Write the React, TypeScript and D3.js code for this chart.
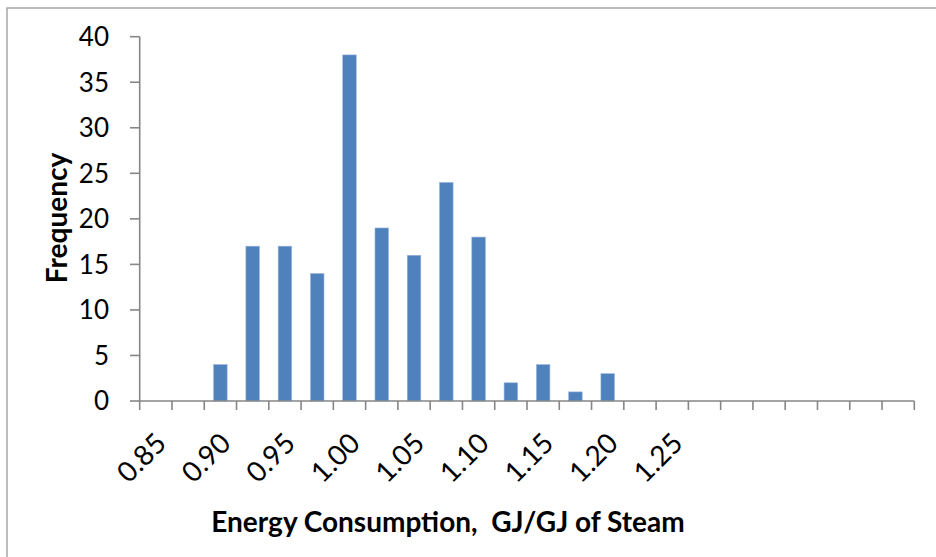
import React from "react";
import * as d3 from "d3";

const categories = ["0.85","0.875","0.90","0.925","0.95","0.975","1.00","1.025","1.05","1.075","1.10","1.125","1.15","1.175","1.20","1.225","1.25","1.275","1.30","1.325","1.35","1.375","1.40","1.425"];
const frequency = [0,0,4,17,17,14,38,19,16,24,18,2,4,1,3,0,0,0,0,0,0,0,0,0];
const shownTickLabels = ["0.85","0.90","0.95","1.00","1.05","1.10","1.15","1.20","1.25"];
const yTicks = [0,5,10,15,20,25,30,35,40];

const W = 936, H = 557;
const FONT = "Lato, 'Open Sans', sans-serif";
const AXIS = "#868686";

export default function App() {
  const x = d3.scaleBand<string>().domain(categories).range([139.7, 914.3]).paddingInner(0).paddingOuter(0);
  const y = d3.scaleLinear().domain([0, 40]).range([401, 36.7]);
  const bw = x.bandwidth() * 0.42;
  const boundaries = categories.map((c) => x(c) as number).concat([914.3]);

  return (
    <svg width={W} height={H} style={{ position: "absolute", left: 0, top: 0, background: "#fff" }}>
      <rect x={7} y={8} width={W + 10} height={H + 10} fill="#fff" stroke="#a6a6a6" strokeWidth={1.5} />
      {categories.map((c, i) =>
        frequency[i] > 0 ? (
          <rect
            key={c}
            x={(x(c) as number) + x.bandwidth() / 2 - bw / 2}
            y={y(frequency[i])}
            width={bw}
            height={y(0) - y(frequency[i])}
            fill="#4F81BD"
            stroke="#9CB6DA"
            strokeWidth={0.6}
          />
        ) : null
      )}
      <line x1={139.7} x2={139.7} y1={y(40)} y2={y(0)} stroke={AXIS} strokeWidth={1.6} />
      {yTicks.map((t) => (
        <g key={t}>
          <line x1={130} x2={139.7} y1={y(t)} y2={y(t)} stroke={AXIS} strokeWidth={1.6} />
          <text x={109} y={y(t)} dy="0.36em" textAnchor="end" fontFamily={FONT} fontSize={26} fill="#000">
            {t}
          </text>
        </g>
      ))}
      <line x1={139.7} x2={914.3} y1={y(0)} y2={y(0)} stroke={AXIS} strokeWidth={1.6} />
      {boundaries.map((b, i) => (
        <line key={i} x1={b} x2={b} y1={y(0)} y2={y(0) + 9} stroke={AXIS} strokeWidth={1.6} />
      ))}
      {categories.map((c) =>
        shownTickLabels.includes(c) ? (
          <text
            key={c}
            transform={`translate(${(x(c) as number) + x.bandwidth() / 2 + 5},${438}) rotate(-45)`}
            dy="0.36em"
            textAnchor="end"
            fontFamily={FONT}
            fontSize={28}
            fill="#000"
          >
            {c}
          </text>
        ) : null
      )}
      <text
        transform={`translate(57,218) rotate(-90)`}
        dy="0.36em"
        textAnchor="middle"
        fontFamily={FONT}
        fontWeight="bold"
        fontSize={28}
        fill="#000"
      >
        Frequency
      </text>
      <text x={448} y={532} textAnchor="middle" fontFamily={FONT} fontWeight="bold" fontSize={28} fill="#000" style={{ whiteSpace: "pre" }}>
        Energy Consumption,  GJ/GJ of Steam
      </text>
    </svg>
  );
}
